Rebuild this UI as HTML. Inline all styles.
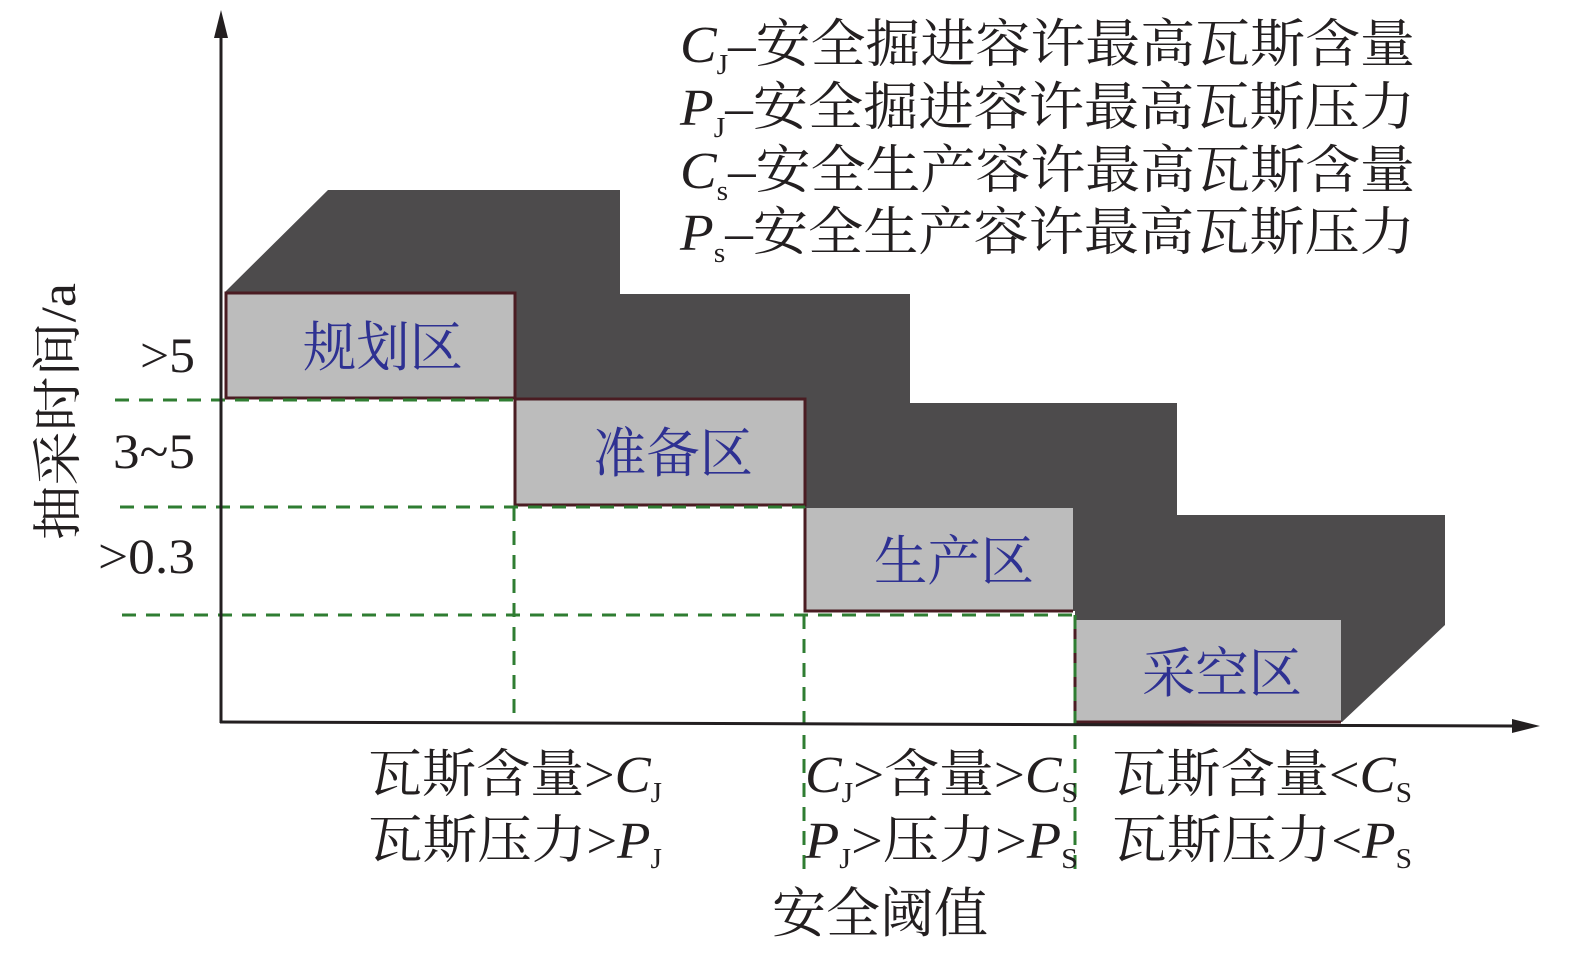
<!DOCTYPE html>
<html><head><meta charset="utf-8"><style>
html,body{margin:0;padding:0;background:#fff;}
svg{display:block;}
text{font-family:"Liberation Serif","Noto Serif CJK SC",serif;fill:#231f20;}
.z{fill:#2e3192;}
</style></head><body>
<svg width="1575" height="953" viewBox="0 0 1575 953" xmlns="http://www.w3.org/2000/svg">
<!-- dark shadow -->
<polygon points="225,292 328,190 620,190 620,294 910,294 910,403 1177,403 1177,515 1445,515 1445,625 1342,722 1075,722 1075,611 805,611 805,505 515,505 515,398 225,398" fill="#4d4b4c"/>
<!-- grey boxes -->
<rect x="226" y="293" width="289" height="105" fill="#bcbcbc" stroke="#4a1c22" stroke-width="3"/>
<rect x="515" y="399" width="290" height="106" fill="#bcbcbc" stroke="#4a1c22" stroke-width="3"/>
<rect x="805" y="508" width="268" height="103" fill="#bcbcbc"/>
<polyline points="805,508 805,611 1073,611" fill="none" stroke="#4a1c22" stroke-width="3"/>
<rect x="1075" y="620" width="266" height="102" fill="#bcbcbc"/>
<polyline points="1075,620 1075,722 1341,722" fill="none" stroke="#4a1c22" stroke-width="3"/>
<!-- dashed -->
<g stroke="#2f7d32" stroke-width="3" stroke-dasharray="14,10" fill="none">
<line x1="115" y1="400" x2="515" y2="400"/>
<line x1="120" y1="507" x2="805" y2="507"/>
<line x1="122" y1="615" x2="1073" y2="615"/>
<line x1="514" y1="507" x2="514" y2="715"/>
<line x1="804" y1="615" x2="804" y2="870"/>
<line x1="1075" y1="615" x2="1075" y2="870"/>
</g>
<!-- axes -->
<line x1="221" y1="30" x2="221" y2="723" stroke="#231f20" stroke-width="3"/>
<polygon points="221,10 214,38 228,38" fill="#231f20"/>
<line x1="220" y1="722" x2="1515" y2="726" stroke="#231f20" stroke-width="3"/>
<polygon points="1540,726 1512,719 1512,733" fill="#231f20"/>
<!-- legend -->
<text x="680" y="62" font-size="52" textLength="735" lengthAdjust="spacingAndGlyphs"><tspan font-style="italic">C</tspan><tspan font-size="28" dy="12">J</tspan><tspan dy="-12">–安全掘进容许最高瓦斯含量</tspan></text>
<text x="680" y="125" font-size="52" textLength="735" lengthAdjust="spacingAndGlyphs"><tspan font-style="italic">P</tspan><tspan font-size="28" dy="12">J</tspan><tspan dy="-12">–安全掘进容许最高瓦斯压力</tspan></text>
<text x="680" y="188" font-size="52" textLength="735" lengthAdjust="spacingAndGlyphs"><tspan font-style="italic">C</tspan><tspan font-size="28" dy="12">s</tspan><tspan dy="-12">–安全生产容许最高瓦斯含量</tspan></text>
<text x="680" y="250" font-size="52" textLength="735" lengthAdjust="spacingAndGlyphs"><tspan font-style="italic">P</tspan><tspan font-size="28" dy="12">s</tspan><tspan dy="-12">–安全生产容许最高瓦斯压力</tspan></text>
<!-- zone labels -->
<text class="z" x="303" y="366" font-size="54" textLength="160" lengthAdjust="spacingAndGlyphs">规划区</text>
<text class="z" x="593" y="472" font-size="54" textLength="160" lengthAdjust="spacingAndGlyphs">准备区</text>
<text class="z" x="874" y="580" font-size="54" textLength="160" lengthAdjust="spacingAndGlyphs">生产区</text>
<text class="z" x="1142" y="692" font-size="54" textLength="160" lengthAdjust="spacingAndGlyphs">采空区</text>
<!-- y labels -->
<text x="140" y="372" font-size="50" textLength="55" lengthAdjust="spacingAndGlyphs">&gt;5</text>
<text x="113" y="468" font-size="50" textLength="82" lengthAdjust="spacingAndGlyphs">3~5</text>
<text x="98" y="573" font-size="50" textLength="97" lengthAdjust="spacingAndGlyphs">&gt;0.3</text>
<text x="0" y="0" font-size="50" transform="translate(75,540) rotate(-90)" textLength="257" lengthAdjust="spacingAndGlyphs">抽采时间/a</text>
<!-- bottom labels -->
<text x="368" y="792" font-size="52" textLength="294" lengthAdjust="spacingAndGlyphs">瓦斯含量&gt;<tspan font-style="italic">C</tspan><tspan font-size="28" dy="10">J</tspan></text>
<text x="368" y="858" font-size="52" textLength="294" lengthAdjust="spacingAndGlyphs">瓦斯压力&gt;<tspan font-style="italic">P</tspan><tspan font-size="28" dy="10">J</tspan></text>
<text x="805" y="792" font-size="52" textLength="273" lengthAdjust="spacingAndGlyphs"><tspan font-style="italic">C</tspan><tspan font-size="28" dy="10">J</tspan><tspan dy="-10">&gt;含量&gt;</tspan><tspan font-style="italic">C</tspan><tspan font-size="28" dy="10">S</tspan></text>
<text x="805" y="858" font-size="52" textLength="273" lengthAdjust="spacingAndGlyphs"><tspan font-style="italic">P</tspan><tspan font-size="28" dy="10">J</tspan><tspan dy="-10">&gt;压力&gt;</tspan><tspan font-style="italic">P</tspan><tspan font-size="28" dy="10">S</tspan></text>
<text x="1112" y="792" font-size="52" textLength="300" lengthAdjust="spacingAndGlyphs">瓦斯含量&lt;<tspan font-style="italic">C</tspan><tspan font-size="28" dy="10">S</tspan></text>
<text x="1112" y="858" font-size="52" textLength="300" lengthAdjust="spacingAndGlyphs">瓦斯压力&lt;<tspan font-style="italic">P</tspan><tspan font-size="28" dy="10">S</tspan></text>
<text x="772" y="932" font-size="54" textLength="216" lengthAdjust="spacingAndGlyphs">安全阈值</text>
</svg>
</body></html>
